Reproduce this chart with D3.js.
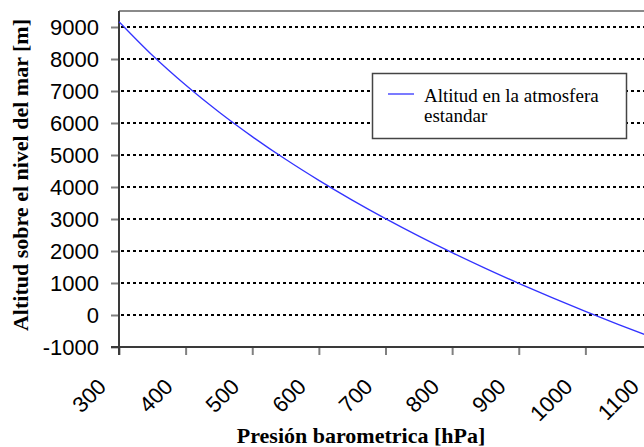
<!DOCTYPE html>
<html>
<head>
<meta charset="utf-8">
<script src="https://cdn.jsdelivr.net/npm/d3@7"></script>
<style>
  html, body { margin: 0; padding: 0; background: #fff; }
  svg { display: block; }
</style>
</head>
<body>
<svg id="chart" width="644" height="447"></svg>
<script>
// Data
const pressures = [300, 350, 400, 450, 500, 550, 600, 650, 700, 750, 800, 850, 900, 950, 1000, 1050, 1100];
const altitudes = [9165, 8117, 7186, 6344, 5575, 4865, 4207, 3591, 3012, 2466, 1949, 1458, 989, 540, 111, -302, -698];
const xTicks = [300, 400, 500, 600, 700, 800, 900, 1000, 1100];
const yTicks = [-1000, 0, 1000, 2000, 3000, 4000, 5000, 6000, 7000, 8000, 9000];
const seriesName = ["Altitud en la atmosfera", "estandar"];
const xTitle = "Presión barometrica [hPa]";
const yTitle = "Altitud sobre el nivel del mar [m]";

const svg = d3.select("#chart");
const x = d3.scaleLinear().domain([300, 1100]).range([119, 652]);
const y = d3.scaleLinear().domain([-1000, 9500]).range([347, 11]);
const fmt = d => String(d);

// top frame
svg.append("line")
  .attr("x1", x(300)).attr("x2", 660)
  .attr("y1", y(9500)).attr("y2", y(9500))
  .attr("stroke", "#8a8a8a").attr("stroke-width", 2);

// gridlines
svg.append("g").selectAll("line")
  .data(yTicks.filter(d => d > -1000))
  .join("line")
  .attr("x1", x(300) + 2).attr("x2", 660)
  .attr("y1", d => y(d)).attr("y2", d => y(d))
  .attr("stroke", "#000").attr("stroke-width", 2)
  .attr("stroke-dasharray", "3,3");

// Y axis
const yAxis = d3.axisLeft(y).tickValues(yTicks).tickSize(8).tickPadding(12).tickFormat(fmt);
const gy = svg.append("g").attr("transform", `translate(${x(300)},0)`).call(yAxis);
gy.select(".domain").remove();
gy.selectAll(".tick line").attr("stroke", "#808080").attr("stroke-width", 2);
gy.selectAll(".tick text")
  .attr("font-family", "Liberation Sans, Arial, sans-serif")
  .attr("font-size", 22).attr("fill", "#000");

// X axis
const xAxis = d3.axisBottom(x).tickValues(xTicks).tickSize(8).tickFormat(fmt);
const gx = svg.append("g").attr("transform", `translate(0,${y(-1000)})`).call(xAxis);
gx.select(".domain").remove();
gx.selectAll(".tick line").attr("stroke", "#808080").attr("stroke-width", 2);
gx.selectAll(".tick text")
  .attr("font-family", "Liberation Sans, Arial, sans-serif")
  .attr("font-size", 22).attr("fill", "#000")
  .attr("text-anchor", "end")
  .attr("dy", null).attr("y", null)
  .attr("transform", "translate(-12,41) rotate(-45)");

// axis lines
svg.append("line")
  .attr("x1", x(300)).attr("x2", x(300))
  .attr("y1", y(9500)).attr("y2", y(-1000) + 8)
  .attr("stroke", "#3a3a3a").attr("stroke-width", 2);
svg.append("line")
  .attr("x1", x(300) - 8).attr("x2", 660)
  .attr("y1", y(-1000)).attr("y2", y(-1000))
  .attr("stroke", "#3a3a3a").attr("stroke-width", 2);

// series line
const line = d3.line().x((d, i) => x(pressures[i])).y(d => y(d)).curve(d3.curveMonotoneX);
svg.append("path")
  .datum(altitudes)
  .attr("d", line)
  .attr("fill", "none")
  .attr("stroke", "#3333ff")
  .attr("stroke-width", 1.3);

// legend
const lg = svg.append("g");
lg.append("rect")
  .attr("x", 372.5).attr("y", 73.5).attr("width", 254).attr("height", 65)
  .attr("fill", "#fff").attr("stroke", "#444").attr("stroke-width", 1.5);
lg.append("line")
  .attr("x1", 388).attr("x2", 414).attr("y1", 94).attr("y2", 94)
  .attr("stroke", "#3333ff").attr("stroke-width", 1.3);
lg.selectAll("text.leg").data(seriesName).join("text")
  .attr("class", "leg")
  .attr("x", 424).attr("y", (d, i) => 101.5 + i * 20)
  .attr("font-family", "Liberation Serif, Times New Roman, serif")
  .attr("font-size", 19).attr("fill", "#000")
  .text(d => d);

// axis titles
svg.append("text")
  .attr("x", 361).attr("y", 443)
  .attr("text-anchor", "middle")
  .attr("font-family", "Liberation Serif, Times New Roman, serif")
  .attr("font-weight", "bold").attr("font-size", 22).attr("fill", "#000")
  .text(xTitle);
svg.append("text")
  .attr("transform", "translate(28,175) rotate(-90)")
  .attr("text-anchor", "middle")
  .attr("font-family", "Liberation Serif, Times New Roman, serif")
  .attr("font-weight", "bold").attr("font-size", 22).attr("fill", "#000")
  .text(yTitle);
</script>
</body>
</html>
